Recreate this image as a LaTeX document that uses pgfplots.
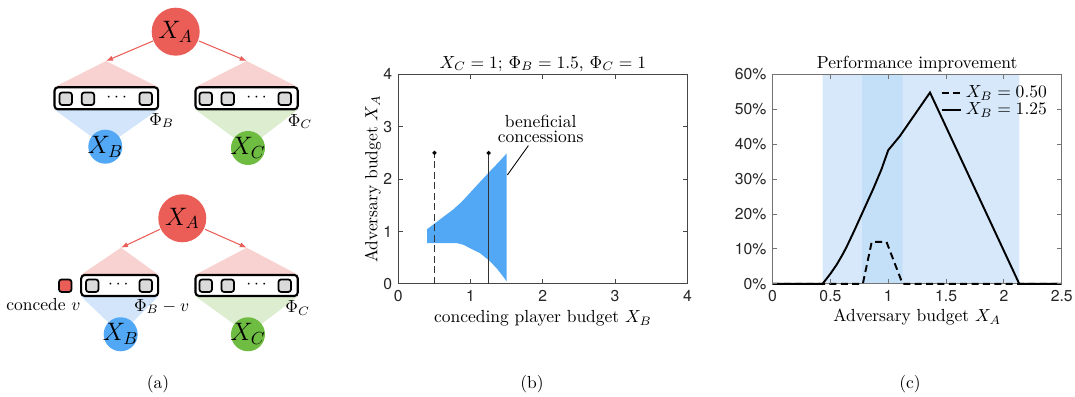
\documentclass[border=0pt]{standalone}
\usepackage{fontspec}
\usepackage{pgfplots}
\pgfplotsset{compat=1.18}
\usetikzlibrary{arrows.meta}
\newfontfamily\hv{TeX Gyre Heros}
\definecolor{redc}{RGB}{235,94,88}
\definecolor{bluec}{RGB}{82,168,245}
\definecolor{greenc}{RGB}{110,188,65}
\definecolor{pinkc}{RGB}{248,210,208}
\definecolor{lbluec}{RGB}{210,229,250}
\definecolor{lgreenc}{RGB}{220,237,208}
\definecolor{sqgray}{RGB}{218,218,218}
\definecolor{shadeA}{RGB}{214,232,250}
\definecolor{shadeB}{RGB}{196,223,248}
\definecolor{regionc}{RGB}{82,168,245}
\definecolor{axc}{RGB}{70,70,70}
\begin{document}
\begin{tikzpicture}
\path[use as bounding box] (0,0) rectangle (614.3pt,-226.8pt);
\begin{scope}[x=0.5714pt,y=-0.5714pt]
% ---------- top diagram ----------
\fill[pinkc] (106,61) -- (54,87.3) -- (158.7,87.3) -- cycle;
\fill[pinkc] (246.7,61) -- (195,87.3) -- (298.3,87.3) -- cycle;
\fill[lbluec] (54,109.3) -- (158.7,109.3) -- (105.3,146.7) -- cycle;
\fill[lgreenc] (195,109.3) -- (298.3,109.3) -- (248,148) -- cycle;
\draw[line width=1.2pt, rounded corners=2pt, fill=white] (54.5,87.3) rectangle (158.2,109.3);
\draw[line width=1.2pt, rounded corners=2pt, fill=white] (195.5,87.3) rectangle (297.8,109.3);
\foreach \a in {59.5,81.7,139.5}{\draw[line width=1pt, rounded corners=1.5pt, fill=sqgray] (\a,92.5) rectangle ++(12.5,12.5);}
\foreach \a in {199.5,221.5,278.5}{\draw[line width=1pt, rounded corners=1.5pt, fill=sqgray] (\a,92.5) rectangle ++(12.5,12.5);}
\node at (116.7,97.5) {$\cdots$};
\node at (256.7,97.5) {$\cdots$};
\draw[redc, line width=0.6pt, -{Latex[length=4pt,width=3pt]}] (153,41) -- (106,61);
\draw[redc, line width=0.6pt, -{Latex[length=4pt,width=3pt]}] (199,41) -- (246.7,61);
\fill[redc] (175.7,31.7) circle (24);
\node at (175.7,31.7) {\Large $X_A$};
\fill[bluec] (105.3,146.7) circle (17);
\node at (105.3,146.7) {\Large $X_B$};
\fill[greenc] (248,148) circle (17);
\node at (248,148) {\Large $X_C$};
\node at (161.7,120.5) {$\Phi_B$};
\node at (300,121.7) {$\Phi_C$};
% ---------- bottom diagram ----------
\fill[pinkc] (121,247.7) -- (80.7,275) -- (158.7,275) -- cycle;
\fill[pinkc] (246.7,247.7) -- (195,275) -- (298.3,275) -- cycle;
\fill[lbluec] (80.7,296) -- (158.7,296) -- (120.7,334.3) -- cycle;
\fill[lgreenc] (195,296) -- (298.3,296) -- (248,334.3) -- cycle;
\draw[line width=1.2pt, rounded corners=2pt, fill=white] (81.2,275) rectangle (158.2,296);
\draw[line width=1.2pt, rounded corners=2pt, fill=white] (195.5,275) rectangle (297.8,296);
\foreach \a in {86,139.5}{\draw[line width=1pt, rounded corners=1.5pt, fill=sqgray] (\a,279.5) rectangle ++(12.5,12.5);}
\foreach \a in {199.5,221.5,278.5}{\draw[line width=1pt, rounded corners=1.5pt, fill=sqgray] (\a,279.5) rectangle ++(12.5,12.5);}
\draw[line width=1pt, rounded corners=1.5pt, fill=redc] (59,279.5) rectangle ++(12.5,12.5);
\node at (118.3,284.5) {$\cdots$};
\node at (256.7,284.5) {$\cdots$};
\draw[redc, line width=0.6pt, -{Latex[length=4pt,width=3pt]}] (160,229.3) -- (121,247.7);
\draw[redc, line width=0.6pt, -{Latex[length=4pt,width=3pt]}] (205,229.3) -- (246.7,247.7);
\fill[redc] (182.3,218.3) circle (24);
\node at (182.3,218.3) {\Large $X_A$};
\fill[bluec] (120.7,334.3) circle (17);
\node at (120.7,334.3) {\Large $X_B$};
\fill[greenc] (248,334.3) circle (17);
\node at (248,334.3) {\Large $X_C$};
\node at (43.5,305) {concede $v$};
\node at (161.7,306.7) {$\Phi_B - v$};
\node at (297.7,308.3) {$\Phi_C$};
% ---------- panel labels ----------
\node at (158,384) {(a)};
\node at (532,384) {(b)};
\node at (910,384) {(c)};
\end{scope}

% ---------- panel (b) ----------
\begin{axis}[
  at={(227.6pt,-162.2pt)}, anchor=south west,
  scale only axis, width=165.2pt, height=119.7pt,
  xmin=0, xmax=4, ymin=0, ymax=4,
  xtick={0,1,2,3,4}, ytick={0,1,2,3,4},
  tick align=inside, major tick length=2.5pt,
  axis line style={axc, line width=0.5pt}, tick style={axc, line width=0.5pt},
  /pgf/number format/assume math mode=true,
  tick label style={font=\hv\small, text=black!85},
  title={$X_C = 1$; $\Phi_B = 1.5$, $\Phi_C = 1$},
  title style={yshift=-8pt},
  xlabel={conceding player budget $X_B$},
  xlabel style={at={(axis description cs:0.5,-0.165)}, anchor=center},
  ylabel={Adversary budget $X_A$},
  ylabel style={at={(axis description cs:-0.088,0.5)}, anchor=center, rotate=0},
  clip=false,
]
\addplot[fill=regionc, draw=none] coordinates {
 (0.4,1.046) (0.5,1.15) (0.63,1.285) (0.76,1.42) (0.88,1.57) (0.99,1.735) (1.12,1.93) (1.255,2.13) (1.38,2.31) (1.5,2.49)
 (1.5,0.045) (1.45,0.14) (1.36,0.30) (1.255,0.447) (1.13,0.587) (0.99,0.683) (0.9,0.746) (0.81,0.778) (0.4,0.778) (0.4,1.046)};
\addplot[black!80, line width=0.8pt, dash pattern=on 4pt off 2pt] coordinates {(0.5,0) (0.5,2.5)};
\addplot[black!80, line width=0.8pt] coordinates {(1.25,0) (1.25,2.5)};
\addplot[only marks, mark=*, mark size=1pt, black] coordinates {(0.5,2.5) (1.25,2.5)};
\draw[black, line width=0.5pt] (axis cs:1.51,2.08) -- (axis cs:1.8,2.64);
\node[align=center, inner sep=0pt] at (axis cs:1.97,2.96) {beneficial\\[-3.5pt]concessions};
\end{axis}

% ---------- panel (c) ----------
\begin{axis}[
  at={(441.5pt,-162.2pt)}, anchor=south west,
  scale only axis, width=165.2pt, height=119.7pt,
  xmin=0, xmax=2.5, ymin=0, ymax=60,
  xtick={0,0.5,1,1.5,2,2.5}, ytick={0,10,20,30,40,50,60},
  yticklabels={0\%,10\%,20\%,30\%,40\%,50\%,60\%},
  tick align=inside, major tick length=2.5pt,
  axis line style={draw=none}, tick style={black!55, line width=0.5pt},
  /pgf/number format/assume math mode=true,
  tick label style={font=\hv\small, text=black!85},
  title={Performance improvement},
  title style={yshift=-8pt},
  xlabel={Adversary budget $X_A$},
  xlabel style={at={(axis description cs:0.5,-0.16)}, anchor=center},
  axis on top, clip=false,
  legend style={at={(0.962,0.965)}, anchor=north east, draw=none, fill=none, row sep=-2.5pt, inner sep=0pt, font=\normalsize},
  legend cell align=left,
  legend image code/.code={\draw[#1] (0cm,0cm) -- (0.4cm,0cm);},
]
\addplot[fill=shadeA, draw=none, forget plot] coordinates {(0.432,0) (0.432,60) (2.133,60) (2.133,0)} \closedcycle;
\addplot[fill=shadeB, draw=none, forget plot] coordinates {(0.775,0) (0.775,60) (1.124,60) (1.124,0)} \closedcycle;
\draw[black!55, line width=0.5pt] (rel axis cs:0,0) rectangle (rel axis cs:1,1);
\addplot[black, line width=1.1pt, dash pattern=on 4pt off 2.5pt] coordinates {(0,0) (0.78,0) (0.857,12) (0.985,12) (1.124,0) (2.5,0)};
\addlegendentry{$X_B = 0.50$}
\addplot[black, line width=1.1pt] coordinates {(0,0) (0.432,0) (0.5,2.9) (0.554,5.5) (0.6,8.1) (0.64,10.6) (0.7,14.8) (0.77,19.9) (0.87,27.2) (0.94,32.7) (1.0,38.3) (1.1,42.3) (1.361,54.8) (2.133,0) (2.5,0)};
\addlegendentry{$X_B = 1.25$}
\end{axis}
\end{tikzpicture}
\end{document}
